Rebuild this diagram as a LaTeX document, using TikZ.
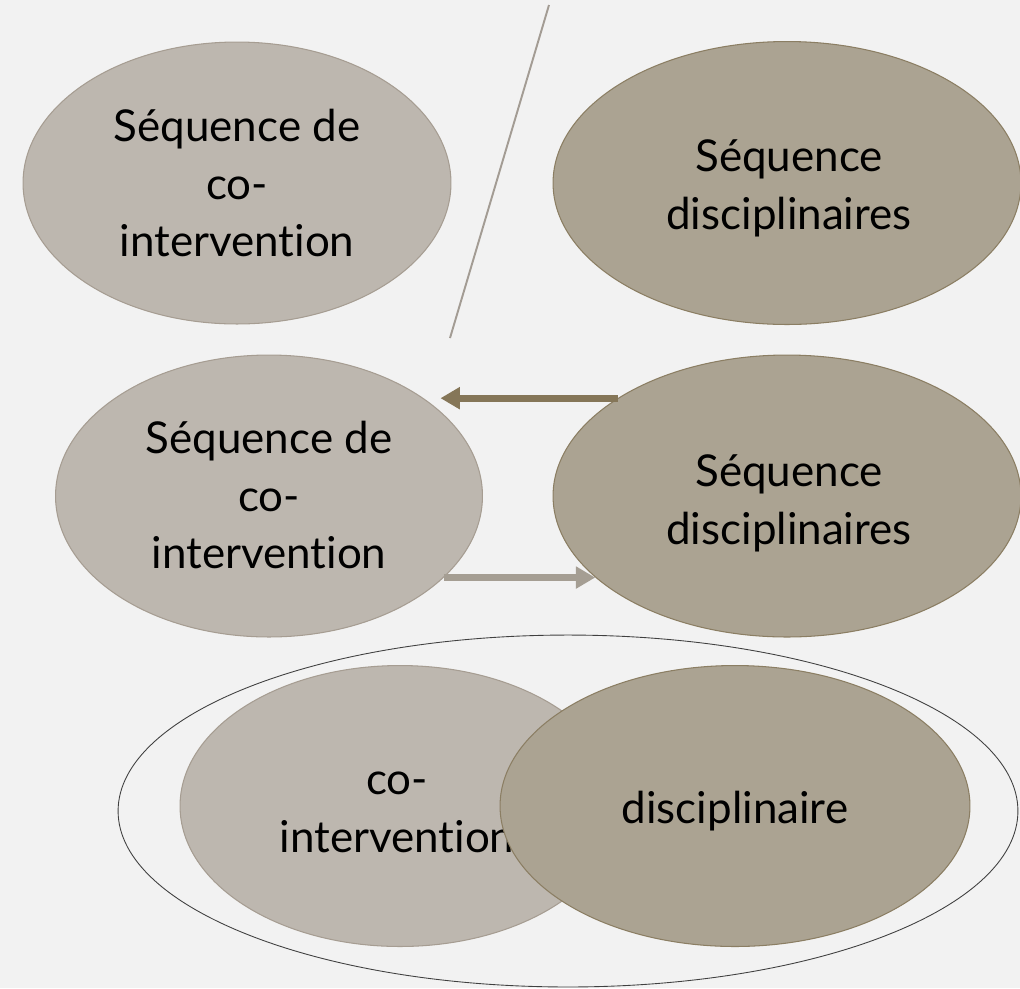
\documentclass[tikz,border=0pt]{standalone}
\usepackage{fontspec}
\setmainfont{Lato}[Ligatures={NoCommon}]
\usetikzlibrary{shapes.geometric,arrows.meta}

\definecolor{bgGrey}{HTML}{F2F2F2}
\definecolor{lightFill}{HTML}{BDB7AF}
\definecolor{lightEdge}{HTML}{A69D92}
\definecolor{darkFill}{HTML}{ABA392}
\definecolor{darkEdge}{HTML}{8B7E63}
\definecolor{arrowDark}{HTML}{857658}
\definecolor{arrowLight}{HTML}{A59E93}
\definecolor{slashGrey}{HTML}{A39C94}

\tikzset{
  blobL/.style={ellipse, fill=lightFill, draw=lightEdge, line width=0.6pt, inner sep=0pt},
  blobD/.style={ellipse, fill=darkFill, draw=darkEdge, line width=0.6pt, inner sep=0pt},
  txt/.style={align=center, inner sep=0pt, font=\fontsize{25}{33}\selectfont},
  fatarrow/.style={line width=3.8pt, -{Triangle[length=11pt,width=12pt]}},
}

\begin{document}
\begin{tikzpicture}[x=0.02cm,y=-0.02cm]
			%%%%% BACKGROUND %%%%%
			\fill[bgGrey] (0,0) rectangle (1020,988);
			\useasboundingbox (0,0) rectangle (1020,988);
			
			%%%%% TOP ROW %%%%%
			\node[blobL, minimum width=8.56cm, minimum height=5.64cm] (tl) at (237,183) {};
			\node[txt] (tlText) at (237,183) {Séquence de\\co-\\intervention};
			
			\node[blobD, minimum width=9.36cm, minimum height=5.66cm] (tr) at (787,183) {};
			\node[txt] (trText) at (789,188) {Séquence\\disciplinaires};
			
			\coordinate (slashTop) at (549,5);
			\coordinate (slashBot) at (450,338);
			\draw[slashGrey, line width=1.1pt] (slashTop) -- (slashBot);
			
			%%%%% MIDDLE ROW %%%%%
			\node[blobL, minimum width=8.54cm, minimum height=5.64cm] (ml) at (269,496) {};
			\node[txt] (mlText) at (269,495) {Séquence de\\co-\\intervention};
			
			\node[blobD, minimum width=9.36cm, minimum height=5.64cm] (mr) at (787,496) {};
			\node[txt] (mrText) at (789,503) {Séquence\\disciplinaires};
			
			\draw[fatarrow, arrowDark, shorten >=0.15cm] (mr.150.6) -- (mr.150.6 -| ml.29);
			\draw[fatarrow, arrowLight] (ml.-25.6) -- (ml.-25.6 -| mr.203);
			
			%%%%% BOTTOM %%%%%
			\node[ellipse, draw=black!75, line width=0.5pt, minimum width=18cm, minimum height=7.04cm] (whole) at (568,811) {};
			
			\node[blobL, minimum width=8.8cm, minimum height=5.62cm] (co) at (400,806) {};
			\node[txt] (coText) at (397,812) {co-\\intervention};
			
			\node[blobD, minimum width=9.4cm, minimum height=5.62cm] (dis) at (735,806) {};
			\node[txt] (disText) at (735,811) {disciplinaire};
			
\end{tikzpicture}
\end{document}
